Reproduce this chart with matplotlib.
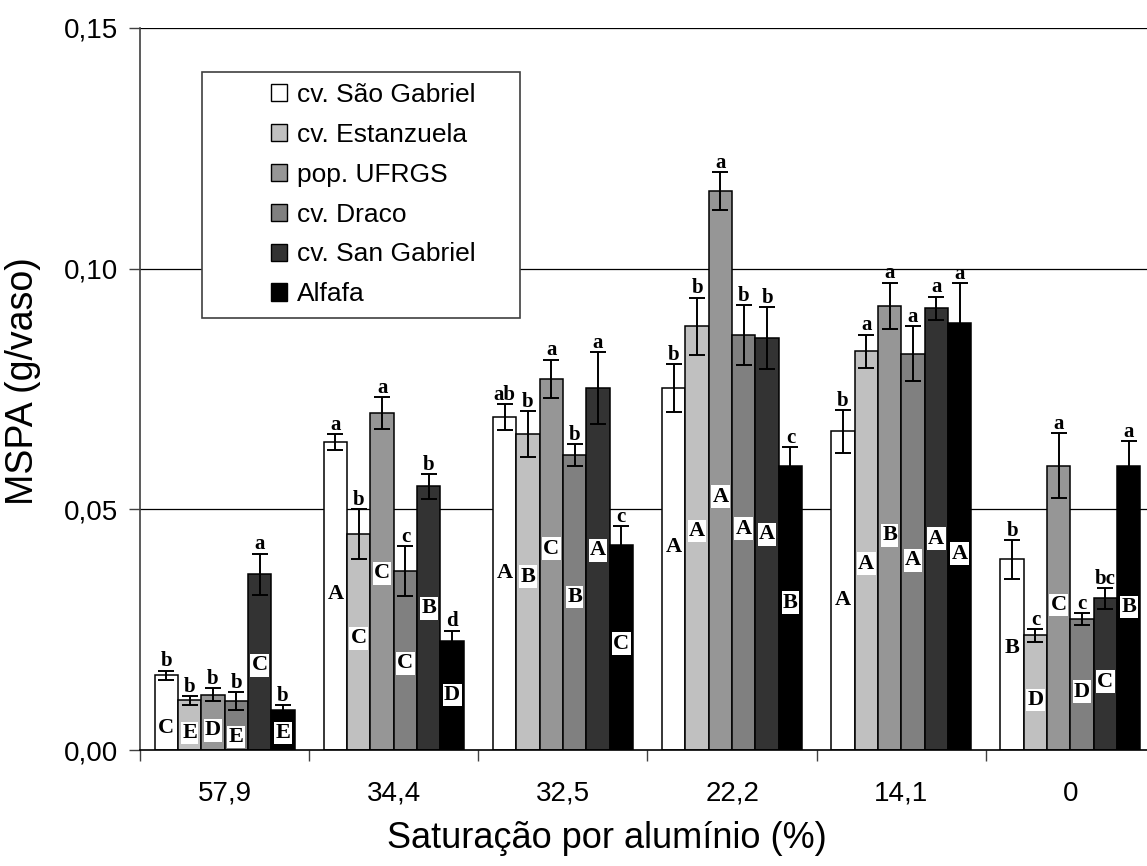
import matplotlib
matplotlib.use("Agg")
import matplotlib.pyplot as plt
import numpy as np
from matplotlib.patches import Patch, Rectangle

# aluminium saturation levels (%)
groups = ["57,9", "34,4", "32,5", "22,2", "14,1", "0"]
cultivars = ["cv. São Gabriel", "cv. Estanzuela", "pop. UFRGS",
             "cv. Draco", "cv. San Gabriel", "Alfafa"]
colors = ["#ffffff", "#c0c0c0", "#969696", "#808080", "#333333", "#000000"]

# shoot dry matter (g/vaso), one list per cultivar across the groups
sao_gabriel = [0.0155, 0.0640, 0.0692, 0.0752, 0.0662, 0.0396]
estanzuela = [0.0103, 0.0448, 0.0656, 0.0880, 0.0828, 0.0238]
ufrgs = [0.0115, 0.0700, 0.0771, 0.1161, 0.0923, 0.0591]
draco = [0.0102, 0.0371, 0.0613, 0.0862, 0.0823, 0.0272]
san_gabriel = [0.0365, 0.0548, 0.0752, 0.0856, 0.0918, 0.0315]
alfafa = [0.0083, 0.0226, 0.0425, 0.0589, 0.0887, 0.0590]

# standard errors
sao_gabriel_err = [0.0010, 0.0017, 0.0027, 0.0050, 0.0045, 0.0040]
estanzuela_err = [0.0009, 0.0052, 0.0048, 0.0060, 0.0035, 0.0014]
ufrgs_err = [0.0014, 0.0033, 0.0040, 0.0040, 0.0048, 0.0067]
draco_err = [0.0018, 0.0052, 0.0023, 0.0062, 0.0057, 0.0013]
san_gabriel_err = [0.0043, 0.0026, 0.0074, 0.0065, 0.0024, 0.0022]
alfafa_err = [0.0010, 0.0022, 0.0040, 0.0040, 0.0083, 0.0051]

# Tukey letters: lowercase compare cultivars within a level,
# uppercase compare levels within a cultivar (one row per level)
lower_letters = [
    ["b", "b", "b", "b", "a", "b"],
    ["a", "b", "a", "c", "b", "d"],
    ["ab", "b", "a", "b", "a", "c"],
    ["b", "b", "a", "b", "b", "c"],
    ["b", "a", "a", "a", "a", "a"],
    ["b", "c", "a", "c", "bc", "a"],
]
upper_letters = [
    ["C", "E", "D", "E", "C", "E"],
    ["A", "C", "C", "C", "B", "D"],
    ["A", "B", "C", "B", "A", "C"],
    ["A", "A", "A", "A", "A", "B"],
    ["A", "A", "B", "A", "A", "A"],
    ["B", "D", "C", "D", "C", "B"],
]
# height of the uppercase letter inside each bar
upper_y = [
    [0.0046, 0.0035, 0.0041, 0.0027, 0.0176, 0.0035],
    [0.0325, 0.0232, 0.0367, 0.0180, 0.0294, 0.0114],
    [0.0367, 0.0360, 0.0418, 0.0318, 0.0415, 0.0221],
    [0.0422, 0.0455, 0.0526, 0.0460, 0.0448, 0.0306],
    [0.0311, 0.0387, 0.0446, 0.0394, 0.0439, 0.0408],
    [0.0211, 0.0104, 0.0301, 0.0121, 0.0142, 0.0297],
]

values = [sao_gabriel, estanzuela, ufrgs, draco, san_gabriel, alfafa]
errors = [sao_gabriel_err, estanzuela_err, ufrgs_err, draco_err,
          san_gabriel_err, alfafa_err]

plt.rcParams["font.family"] = ["Liberation Sans", "DejaVu Sans"]

W, H = 1147, 866
fig = plt.figure(figsize=(W / 100, H / 100), dpi=100)
# axes runs past the right edge of the figure on purpose
ax = fig.add_axes([140 / W, (H - 750) / H, 1015 / W, 722 / H])

x = np.arange(len(groups))
width = 0.138
for k, (vals, errs, col) in enumerate(zip(values, errors, colors)):
    pos = x + (k - 2.5) * width
    ax.bar(pos, vals, width, color=col, edgecolor="black", linewidth=1.1, zorder=2)
    ax.errorbar(pos, vals, yerr=errs, fmt="none", ecolor="black",
                elinewidth=1.4, capsize=5.5, capthick=1.4, zorder=3)
    for g in range(len(groups)):
        ax.annotate(lower_letters[g][k], (pos[g], vals[g] + errs[g]),
                    xytext=(0, 3), textcoords="offset points",
                    ha="center", va="baseline", fontsize=15,
                    fontweight="bold", family="Liberation Serif", zorder=4)
        ax.text(pos[g], upper_y[g][k], upper_letters[g][k],
                ha="center", va="center", fontsize=16, fontweight="bold",
                family="Liberation Serif", zorder=4,
                bbox=dict(facecolor="white", edgecolor="none", pad=1.0))

ax.set_xlim(-0.5, len(groups) - 0.5)
ax.set_ylim(0, 0.15)
ax.set_yticks([0, 0.05, 0.10, 0.15])
ax.set_yticklabels(["0,00", "0,05", "0,10", "0,15"])
for yv in [0.05, 0.10, 0.15]:
    ax.axhline(yv, color="black", linewidth=0.9, zorder=0)

ax.set_xticks(x)
ax.set_xticklabels(groups)
ax.set_xticks(np.arange(len(groups) + 1) - 0.5, minor=True)
ax.tick_params(axis="x", which="major", length=0, pad=22, labelsize=20)
ax.tick_params(axis="x", which="minor", length=8, width=1, color="#404040")
ax.tick_params(axis="y", length=8, width=1, color="#404040", labelsize=20, pad=8)

for side in ["top", "right"]:
    ax.spines[side].set_visible(False)
ax.spines["left"].set_color("#404040")
ax.spines["left"].set_linewidth(1.2)
ax.spines["bottom"].set_color("black")
ax.spines["bottom"].set_linewidth(1.2)

ax.set_ylabel("MSPA (g/vaso)", fontsize=27)
ax.yaxis.set_label_coords(-117 / 1015, 0.5 + 8 / 722)
ax.set_xlabel("Saturação por alumínio (%)", fontsize=26)
ax.xaxis.set_label_coords((607 - 140) / 1015, -(838 - 750) / 722)
ax.xaxis.label.set_va("center")
ax.yaxis.label.set_va("center")

handles = [Patch(facecolor=c, edgecolor="black", linewidth=1.0) for c in colors]
leg = fig.legend(handles, cultivars, loc="upper left",
                 bbox_to_anchor=(250 / W, 1 - 62 / H), frameon=False,
                 fontsize=19, handlelength=0.62, handleheight=0.62,
                 handletextpad=0.35, labelspacing=0.6, borderpad=0.3)
fig.add_artist(Rectangle((202 / W, 1 - 318 / H), 318 / W, 246 / H,
                         transform=fig.transFigure, facecolor="white",
                         edgecolor="#404040", linewidth=1.2, zorder=5))
leg.set_zorder(6)

fig.savefig("out.png", dpi=100)
